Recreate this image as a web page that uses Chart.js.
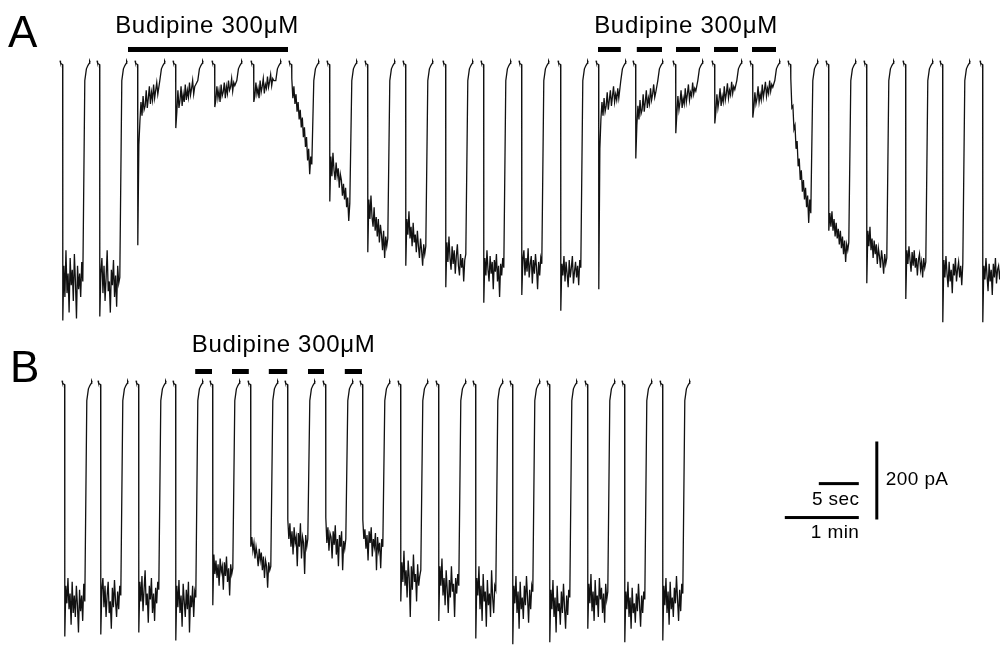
<!DOCTYPE html>
<html>
<head>
<meta charset="utf-8">
<title>Budipine 300µM current traces</title>
<script src="https://cdn.jsdelivr.net/npm/chart.js@4.4.0/dist/chart.umd.min.js"></script>
<style>
  html, body { margin: 0; padding: 0; background: #fff; }
  #wrap { position: relative; width: 1000px; height: 646px; overflow: hidden; }
  #chartA { position: absolute; left: 0; top: 0; }
  #chartB { position: absolute; left: 0; top: 330px; }
</style>
</head>
<body>
<div id="wrap">
  <canvas id="chartA" width="1000" height="330"></canvas>
  <canvas id="chartB" width="1000" height="316"></canvas>
</div>
<script>
// x is display time in s (sweeps shown back to back), y is current in pA
const sweepStartA = [7.5, 12.125, 16.875, 21.625, 26.5, 31.375, 36.125, 40.875, 45.625, 50.375,
                     55.375, 60.125, 64.875, 69.75, 74.5, 79.125, 84.125, 89, 93.75, 98.5,
                     103.25, 108, 112.875, 117.5, 122.5];
const sweepStartB = [7.75, 12.25, 17, 21.625, 26.25, 31, 35.625, 40.375, 45, 49.75,
                     54.5, 59.125, 63.75, 68.375, 73.125, 77.75, 82.5];

// sampled current during each voltage step
const plateauA = [
  [-660, -520, -600, -480, -590, -540, -640, -500, -570, -530, -610, -490, -560, -655, -520, -580, -540, -600, -510, -560],
  [-650, -540, -500, -590, -520, -610, -550, -480, -585, -560, -640, -530, -570, -505, -600, -545, -625, -520, -565, -550],
  [-467, -210, -150, -100, -135, -85, -120, -110, -70, -115, -90, -60, -105, -75, -95, -55, -90, -70, -50, -80],
  [-167, -125, -70, -115, -95, -60, -110, -80, -100, -55, -95, -70, -88, -50, -82, -65, -45, -80, -60, -55],
  [-113, -95, -60, -90, -70, -100, -55, -85, -75, -50, -90, -60, -78, -45, -70, -62, -40, -72, -50, -58],
  [-100, -85, -50, -80, -65, -90, -45, -75, -60, -40, -78, -55, -65, -35, -62, -48, -30, -58, -40, -45],
  [-40, -90, -60, -105, -80, -125, -100, -145, -120, -165, -140, -190, -165, -215, -190, -250, -220, -285, -240, -260],
  [-355, -240, -290, -230, -275, -300, -255, -290, -270, -320, -285, -300, -340, -310, -350, -320, -370, -345, -405, -360],
  [-485, -350, -400, -340, -395, -420, -370, -430, -395, -445, -400, -460, -415, -440, -480, -430, -500, -445, -470, -450],
  [-520, -400, -440, -380, -450, -420, -470, -410, -460, -440, -485, -430, -470, -500, -450, -480, -520, -465, -490, -470],
  [-575, -460, -510, -445, -500, -530, -470, -515, -480, -540, -495, -465, -520, -545, -490, -525, -500, -560, -505, -490],
  [-615, -500, -545, -480, -530, -560, -495, -540, -510, -580, -505, -535, -490, -560, -520, -600, -515, -545, -500, -525],
  [-595, -505, -480, -545, -500, -535, -475, -550, -515, -495, -565, -505, -540, -490, -525, -580, -510, -545, -500, -515],
  [-635, -515, -545, -495, -560, -510, -540, -575, -505, -550, -525, -495, -565, -535, -510, -550, -520, -570, -505, -525],
  [-580, -220, -145, -100, -135, -90, -125, -110, -75, -120, -95, -70, -110, -85, -60, -100, -80, -95, -65, -90],
  [-245, -160, -110, -145, -95, -130, -120, -80, -125, -100, -70, -115, -90, -105, -65, -95, -80, -55, -88, -75],
  [-180, -130, -85, -120, -100, -70, -115, -90, -105, -65, -100, -80, -55, -95, -75, -85, -50, -80, -65, -72],
  [-155, -125, -80, -115, -95, -65, -110, -85, -100, -60, -95, -78, -52, -90, -70, -82, -48, -78, -60, -68],
  [-140, -115, -75, -105, -90, -60, -100, -80, -95, -55, -88, -70, -48, -85, -65, -78, -45, -72, -55, -62],
  [-40, -115, -110, -170, -160, -220, -200, -265, -245, -300, -275, -330, -300, -350, -320, -370, -340, -410, -350, -385],
  [-430, -385, -420, -380, -430, -400, -445, -410, -450, -425, -465, -430, -475, -445, -490, -455, -510, -465, -480, -460],
  [-565, -430, -470, -420, -480, -450, -500, -455, -490, -465, -515, -475, -495, -525, -480, -505, -540, -490, -515, -500],
  [-605, -480, -515, -470, -505, -535, -485, -520, -480, -525, -500, -545, -505, -490, -530, -510, -550, -500, -525, -510],
  [-665, -505, -550, -495, -540, -575, -510, -560, -530, -590, -515, -545, -500, -560, -530, -510, -550, -520, -570, -515],
  [-665, -520, -555, -500, -545, -585, -515, -560, -530, -595, -515, -550, -500, -565, -530, -520, -555, -525, -570, -520]
];
const plateauB = [
  [-650, -520, -565, -500, -580, -540, -620, -510, -590, -545, -600, -520, -570, -640, -530, -585, -545, -610, -515, -560],
  [-645, -530, -500, -575, -520, -600, -545, -510, -590, -560, -630, -525, -575, -505, -560, -600, -535, -580, -520, -545],
  [-640, -510, -560, -495, -585, -530, -480, -570, -540, -615, -520, -555, -500, -590, -540, -610, -525, -565, -510, -530],
  [-660, -520, -575, -505, -590, -545, -625, -515, -560, -600, -530, -580, -510, -640, -545, -575, -520, -600, -535, -550],
  [-570, -440, -490, -455, -500, -465, -520, -450, -485, -470, -530, -460, -495, -445, -510, -475, -545, -465, -490, -475],
  [-420, -395, -430, -410, -450, -420, -440, -470, -425, -455, -435, -480, -445, -500, -455, -470, -525, -460, -480, -470],
  [-350, -400, -360, -420, -380, -440, -370, -410, -395, -470, -385, -420, -360, -450, -395, -410, -490, -390, -420, -400],
  [-345, -410, -370, -430, -385, -395, -450, -380, -415, -365, -440, -400, -470, -390, -420, -380, -480, -405, -425, -400],
  [-350, -400, -375, -425, -390, -455, -380, -410, -370, -445, -400, -420, -385, -480, -395, -430, -410, -475, -400, -420],
  [-560, -460, -510, -430, -520, -480, -550, -455, -500, -600, -470, -530, -440, -510, -490, -560, -465, -520, -495, -480],
  [-610, -470, -520, -450, -545, -500, -570, -480, -530, -590, -505, -550, -470, -535, -515, -600, -500, -540, -490, -520],
  [-655, -500, -545, -470, -580, -520, -610, -490, -560, -535, -625, -505, -570, -540, -600, -480, -550, -590, -520, -530],
  [-670, -520, -565, -495, -590, -535, -630, -510, -580, -550, -605, -520, -570, -495, -550, -615, -530, -580, -520, -535],
  [-665, -530, -580, -505, -600, -550, -640, -520, -585, -565, -620, -535, -590, -515, -575, -630, -545, -595, -530, -550],
  [-630, -515, -565, -490, -585, -535, -610, -505, -570, -545, -600, -500, -555, -525, -590, -540, -615, -515, -555, -535],
  [-665, -535, -580, -510, -600, -550, -630, -525, -590, -565, -615, -540, -585, -515, -570, -625, -545, -590, -535, -555],
  [-660, -520, -570, -500, -590, -535, -620, -510, -580, -550, -600, -525, -565, -495, -555, -610, -530, -585, -515, -540]
];

// shape of the start tick and of the recovery back to the holding current
const tickShape = [[0, 6], [0.06, 1], [0.15, -2], [0.33, -4]];
const recoveryShape = [[0.25, -45], [0.45, -15], [0.65, -6], [0.8, -1], [0.86, 5], [0.92, 2]];
const dropDelay = 0.35;
const plateauLength = 2.5;

// drug application periods (s), one group per label
const drugGroupsA = [
  [[16, 36]],
  [[74.75, 77.6], [79.6, 82.75], [84.5, 87.5], [89.25, 92.25], [94, 97]]
];
const drugGroupsB = [
  [[24.4, 26.5], [29, 31.1], [33.6, 35.9], [38.5, 40.5], [43.1, 45.25]]
];
const drugLabel = 'Budipine 300\u03bcM';

const FONT = '"Liberation Sans", Arial, Helvetica, sans-serif';

function buildTrace(starts, plateaus) {
  const pts = [];
  starts.forEach((t0, i) => {
    tickShape.forEach(([dt, v]) => pts.push({ x: t0 + dt, y: v }));
    const vals = plateaus[i];
    const step = plateauLength / (vals.length - 1);
    vals.forEach((v, k) => pts.push({ x: t0 + dropDelay + k * step, y: v }));
    const tEnd = t0 + dropDelay + plateauLength;
    recoveryShape.forEach(([dt, v]) => pts.push({ x: tEnd + dt, y: v }));
    pts.push({ x: tEnd + 1.2, y: null });
  });
  return pts;
}

const marksPlugin = {
  id: 'marks',
  afterDraw(chart, args, opts) {
    const ctx = chart.ctx;
    const xs = chart.scales.x, ys = chart.scales.y;
    const base = ys.getPixelForValue(0);
    ctx.save();
    ctx.fillStyle = '#000';

    // panel letter
    ctx.font = '44px ' + FONT;
    ctx.textAlign = 'left';
    ctx.textBaseline = 'alphabetic';
    ctx.fillText(opts.letter, opts.letterX, opts.letterY);

    // drug bars and labels
    opts.groups.forEach(group => {
      group.forEach(([t1, t2]) => {
        const x1 = xs.getPixelForValue(t1), x2 = xs.getPixelForValue(t2);
        ctx.fillRect(x1, base - opts.barLift - 2.5, x2 - x1, 5);
      });
      const left = xs.getPixelForValue(group[0][0]);
      const right = xs.getPixelForValue(group[group.length - 1][1]);
      ctx.font = '24px ' + FONT;
      if ('letterSpacing' in ctx) ctx.letterSpacing = '0.7px';
      ctx.textAlign = 'center';
      ctx.fillText(drugLabel, (left + right) / 2 + opts.labelShift, base - opts.labelLift);
      if ('letterSpacing' in ctx) ctx.letterSpacing = '0px';
    });

    // scale bars
    if (opts.scaleBars) {
      const vx = xs.getPixelForValue(109.6);
      const vTop = ys.getPixelForValue(-150), vBot = ys.getPixelForValue(-350);
      ctx.fillRect(vx - 1.5, vTop, 3, vBot - vTop);
      const s1 = xs.getPixelForValue(102.35), s2 = xs.getPixelForValue(107.35);
      ctx.fillRect(s1, ys.getPixelForValue(-258) - 1.5, s2 - s1, 3);
      const m1 = xs.getPixelForValue(98.1);
      ctx.fillRect(m1, ys.getPixelForValue(-345) - 1.5, s2 - m1, 3);

      ctx.font = '19px ' + FONT;
      if ('letterSpacing' in ctx) ctx.letterSpacing = '0.4px';
      ctx.textAlign = 'left';
      ctx.fillText('200 pA', vx + 9, 155);
      ctx.textAlign = 'right';
      ctx.fillText('5 sec', s2 + 0.5, 175);
      ctx.fillText('1 min', s2 + 0.5, 208);
    }
    ctx.restore();
  }
};

function makeChart(id, trace, yMin, yMax, markOpts) {
  return new Chart(document.getElementById(id), {
    type: 'line',
    data: {
      datasets: [{
        data: trace,
        borderColor: '#111',
        borderWidth: 1.3,
        pointRadius: 0,
        tension: 0,
        spanGaps: false
      }]
    },
    options: {
      responsive: false,
      animation: false,
      devicePixelRatio: 1,
      layout: { padding: 0 },
      plugins: {
        legend: { display: false },
        tooltip: { enabled: false },
        marks: markOpts
      },
      scales: {
        x: { type: 'linear', min: 0, max: 125, display: false },
        y: { min: yMin, max: yMax, display: false }
      }
    },
    plugins: [marksPlugin]
  });
}

makeChart('chartA', buildTrace(sweepStartA, plateauA), -684.6, 161.5, {
  letter: 'A', letterX: 8, letterY: 47,
  groups: drugGroupsA, barLift: 13.5, labelLift: 30, labelShift: -1,
  scaleBars: false
});
makeChart('chartB', buildTrace(sweepStartB, plateauB), -674.4, 135.9, {
  letter: 'B', letterX: 10, letterY: 52,
  groups: drugGroupsB, barLift: 11.5, labelLift: 31, labelShift: 5,
  scaleBars: true
});
</script>
</body>
</html>
